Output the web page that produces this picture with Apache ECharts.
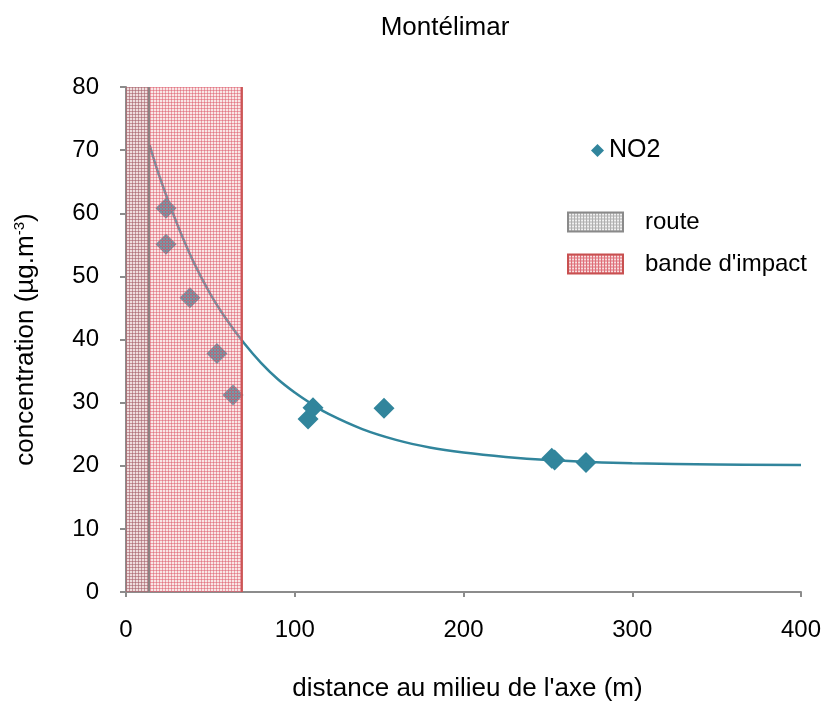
<!DOCTYPE html>
<html><head><meta charset="utf-8">
<script src="https://cdn.jsdelivr.net/npm/echarts@6/dist/echarts.min.js"></script>
<style>html,body{margin:0;padding:0;background:#fff}#c{width:827px;height:707px}</style>
</head><body><div id="c"></div>
<script>
// ---- data ----
var no2X = [23.7, 23.7, 37.9, 53.9, 63.4, 107.9, 110.8, 152.9, 252.3, 254.0, 272.6];
var no2Y = [60.8, 55.1, 46.6, 37.8, 31.2, 27.4, 29.2, 29.1, 21.2, 20.9, 20.5];
var curveX = [14, 20, 30, 40, 50, 60, 70, 80, 90, 100, 110, 120, 140, 160, 180, 200, 225, 250, 275, 300, 350, 400];
var curveY = [70.8, 65.7, 58.5, 52.3, 47.2, 43.0, 39.4, 36.3, 33.7, 31.6, 29.8, 28.2, 25.8, 24.1, 22.9, 22.1, 21.4, 20.9, 20.6, 20.4, 20.2, 20.1];
var routeBand = [0, 13.6];
var impactBand = [0, 68.7];
var yTicks = [0, 10, 20, 30, 40, 50, 60, 70, 80];
var xTicks = [0, 100, 200, 300, 400];

function makePattern(bg, line) {
  var c = document.createElement('canvas');
  c.width = 3; c.height = 3;
  var g = c.getContext('2d');
  g.fillStyle = bg; g.fillRect(0, 0, 3, 3);
  g.clearRect(0, 0, 3, 1); g.clearRect(0, 0, 1, 3);
  g.fillStyle = line; g.fillRect(0, 0, 3, 1); g.fillRect(0, 0, 1, 3);
  return {image: c, repeat: 'repeat'};
}
var redPat = makePattern('rgba(240,190,190,0.38)', 'rgba(222,100,115,0.62)');
var grayPat = makePattern('rgba(190,190,190,0.2)', 'rgba(120,120,120,0.3)');
var redPatL = makePattern('rgba(248,225,225,1)', 'rgba(222,110,120,1)');
var grayPatL = makePattern('rgba(242,242,242,1)', 'rgba(175,175,175,1)');

function bandRender(fill, border) {
  return function (params, api) {
    var p0 = api.coord([api.value(0), 80]);
    var p1 = api.coord([api.value(1), 0]);
    return {
      type: 'group',
      children: [
        {type: 'rect', shape: {x: p0[0], y: p0[1], width: p1[0] - p0[0], height: p1[1] - p0[1]}, style: {fill: fill}},
        {type: 'line', shape: {x1: p1[0], y1: p0[1], x2: p1[0], y2: p1[1]}, style: {stroke: border, lineWidth: 2}}
      ]
    };
  };
}

var font = 'Liberation Sans, Arial, sans-serif';
var chart = echarts.init(document.getElementById('c'));
chart.setOption({
  animation: false,
  title: {text: 'Montélimar', left: 440, textAlign: 'center', top: 10,
    textStyle: {fontFamily: font, fontSize: 26, fontWeight: 'normal', color: '#000'}},
  grid: {left: 126, right: 26, top: 87, bottom: 112},
  legend: [
    {data: [{name: 'NO2', icon: 'diamond'}], left: 591, top: 138, padding: 0, itemWidth: 13, itemHeight: 13, itemGap: 4,
      textStyle: {fontFamily: font, fontSize: 25, color: '#000', padding: [0, 0, 0, 0]}},
    {data: [
      {name: 'route', icon: 'rect', itemStyle: {color: grayPatL, borderColor: '#8a8a8a', borderWidth: 2}},
      {name: "bande d'impact", icon: 'rect', itemStyle: {color: redPatL, borderColor: '#c85050', borderWidth: 2}}
    ], orient: 'vertical', left: 567, top: 210, padding: 0, itemWidth: 55, itemHeight: 19, itemGap: 18,
      textStyle: {fontFamily: font, fontSize: 24, color: '#000', padding: [0, 0, 0, 17]}}
  ],
  xAxis: {type: 'value', min: 0, max: 400, interval: 100,
    name: "distance au milieu de l'axe (m)", nameLocation: 'middle', nameGap: 84,
    nameTextStyle: {fontFamily: font, fontSize: 26, color: '#000', padding: [0, 0, 0, 8]},
    axisLine: {show: true, lineStyle: {color: '#8c8c8c', width: 2}},
    axisTick: {show: true, length: 5, lineStyle: {color: '#8c8c8c', width: 2}},
    splitLine: {show: false},
    axisLabel: {fontFamily: font, fontSize: 24, color: '#000', margin: 26,
      formatter: function (v) { return xTicks.indexOf(v) >= 0 ? String(v) : ''; }}},
  yAxis: {type: 'value', min: 0, max: 80, interval: 10,
    name: '{a|concentration (µg.m}{s|-3}{a|)}', nameLocation: 'middle', nameGap: 87, nameRotate: 90,
    nameTextStyle: {rich: {a: {fontFamily: font, fontSize: 26, color: '#000'}, s: {fontFamily: font, fontSize: 15, color: '#000', verticalAlign: 'top', padding: [0, 0, 12, 0]}}},
    axisLine: {show: true, lineStyle: {color: '#8c8c8c', width: 2}},
    axisTick: {show: true, length: 6, lineStyle: {color: '#8c8c8c', width: 2}},
    splitLine: {show: false},
    axisLabel: {fontFamily: font, fontSize: 24, color: '#000', margin: 27,
      formatter: function (v) { return yTicks.indexOf(v) >= 0 ? String(v) : ''; }}},
  series: [
    {name: 'NO2', type: 'scatter', symbol: 'diamond', symbolSize: 21, z: 2,
      itemStyle: {color: '#31859c', opacity: 1},
      data: no2X.map(function (x, i) { return [x, no2Y[i]]; })},
    {name: 'fit', type: 'line', smooth: 0.4, showSymbol: false, z: 3,
      lineStyle: {color: '#31859c', width: 2.5}, itemStyle: {color: '#31859c'},
      data: curveX.map(function (x, i) { return [x, curveY[i]]; })},
    {name: "bande d'impact", type: 'custom', z: 5, renderItem: bandRender(redPat, '#cc5555'),
      itemStyle: {color: '#d06060'}, data: [impactBand]},
    {name: 'route', type: 'custom', z: 6, renderItem: bandRender(grayPat, '#8a8080'),
      itemStyle: {color: '#999'}, data: [routeBand]}
  ]
});
</script></body></html>
